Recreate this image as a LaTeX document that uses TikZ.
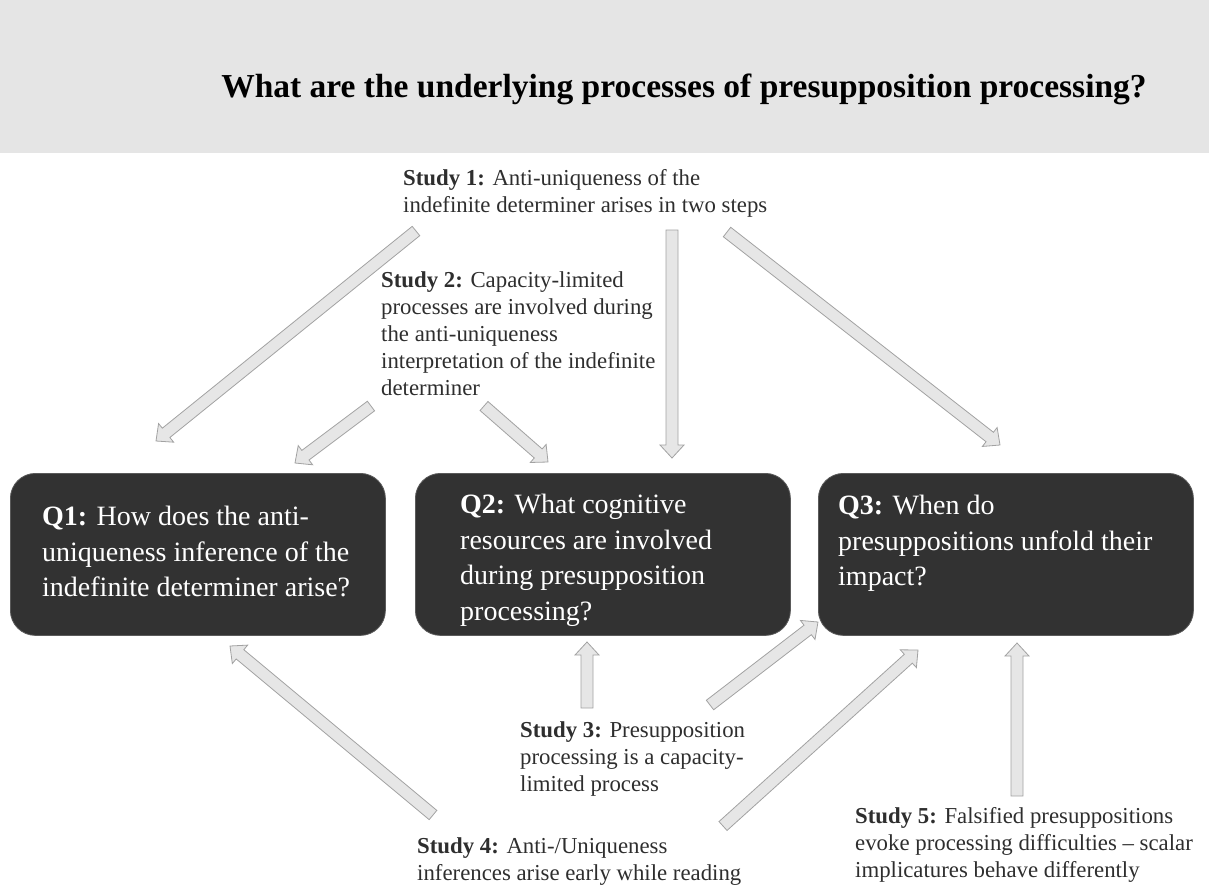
\documentclass[tikz,border=0pt]{standalone}
\usepackage{fontspec}
\setmainfont{Liberation Serif}
\usetikzlibrary{calc}
\definecolor{bannergray}{HTML}{E5E5E5}
\definecolor{qfill}{HTML}{323232}
\definecolor{qedge}{HTML}{5A5A5A}
\definecolor{afill}{HTML}{E6E6E6}
\definecolor{aline}{HTML}{A2A2A2}
\definecolor{stextc}{HTML}{2E2E2E}
\newcommand\blockarr[2]{%
  \path[blk] let \p1=(#1),\p2=(#2),
    \n1={atan2(\y2-\y1,\x2-\x1)},
    \n2={veclen(\x2-\x1,\y2-\y1)-13} in
    ($(\p1)+(\n1+90:6pt)$) --
    ($(\p1)+(\n1:\n2)+(\n1+90:6pt)$) --
    ($(\p1)+(\n1:\n2)+(\n1+90:12pt)$) --
    (\p2) --
    ($(\p1)+(\n1:\n2)+(\n1-90:12pt)$) --
    ($(\p1)+(\n1:\n2)+(\n1-90:6pt)$) --
    ($(\p1)+(\n1-90:6pt)$) -- cycle;}
\tikzset{
  qbox/.style={draw=qedge, line width=0.8pt, fill=qfill, rounded corners=25pt,
    minimum width=375pt, minimum height=162pt, anchor=north west, inner sep=0pt},
  qtext/.style={text=white, align=left, anchor=north west, inner sep=0pt,
    font=\fontsize{28}{35.5}\selectfont},
  stext/.style={text=stextc, align=left, anchor=north west, inner sep=0pt,
    font=\fontsize{22.8}{27}\selectfont},
  titletext/.style={anchor=base, inner sep=0pt, font=\fontsize{33.5}{40}\selectfont\bfseries},
  blk/.style={draw=aline, fill=afill, line width=0.8pt, line join=miter}
}
\begin{document}
\begin{tikzpicture}[x=1pt,y=-1pt]
\useasboundingbox (0,0) rectangle (1209,887);
\fill[bannergray] (0,0) rectangle (1209,153);
\node[titletext] (title) at (684,97) {What are the underlying processes of presupposition processing?};

% question boxes
\node[qbox] (q1) at (10,473) {};
\node[qbox] (q2) at (415,473) {};
\node[qbox] (q3) at (818,473) {};
\node[qtext] (q1t) at (42,506) {\textbf{Q1:} How does the anti-\\uniqueness inference of the\\indefinite determiner arise?};
\node[qtext] (q2t) at (460,494) {\textbf{Q2:} What cognitive\\resources are involved\\during presupposition\\processing?};
\node[qtext] (q3t) at (838,495) {\textbf{Q3:} When do\\presuppositions unfold their\\impact?};

% study labels
\node[stext] (s1) at (403,169) {\textbf{Study 1:} Anti-uniqueness of the\\indefinite determiner arises in two steps};
\node[stext] (s2) at (381,271) {\textbf{Study 2:} Capacity-limited\\processes are involved during\\the anti-uniqueness\\interpretation of the indefinite\\determiner};
\node[stext] (s3) at (520,721) {\textbf{Study 3:} Presupposition\\processing is a capacity-\\limited process};
\node[stext] (s4) at (417,837) {\textbf{Study 4:} Anti-/Uniqueness\\inferences arise early while reading};
\node[stext] (s5) at (855,807) {\textbf{Study 5:} Falsified presuppositions\\evoke processing difficulties \textendash{} scalar\\implicatures behave differently};

% arrow end points
\coordinate (a1s) at (416,231);  \coordinate (a1e) at (156,441);
\coordinate (a2s) at (672,230);  \coordinate (a2e) at (672,458);
\coordinate (a3s) at (727,232);  \coordinate (a3e) at (1000,445);
\coordinate (a4s) at (371,406);  \coordinate (a4e) at (295,463);
\coordinate (a5s) at (484,406);  \coordinate (a5e) at (548,462);
\coordinate (a6s) at (433,815);  \coordinate (a6e) at (230,646);
\coordinate (a7s) at (587,708);  \coordinate (a7e) at (587,642);
\coordinate (a8s) at (710,705);  \coordinate (a8e) at (818,622);
\coordinate (a9s) at (723,826);  \coordinate (a9e) at (918,650);
\coordinate (a10s) at (1017,796); \coordinate (a10e) at (1017,643);

\blockarr{a1s}{a1e}
\blockarr{a2s}{a2e}
\blockarr{a3s}{a3e}
\blockarr{a4s}{a4e}
\blockarr{a5s}{a5e}
\blockarr{a6s}{a6e}
\blockarr{a7s}{a7e}
\blockarr{a8s}{a8e}
\blockarr{a9s}{a9e}
\blockarr{a10s}{a10e}
\end{tikzpicture}
\end{document}
